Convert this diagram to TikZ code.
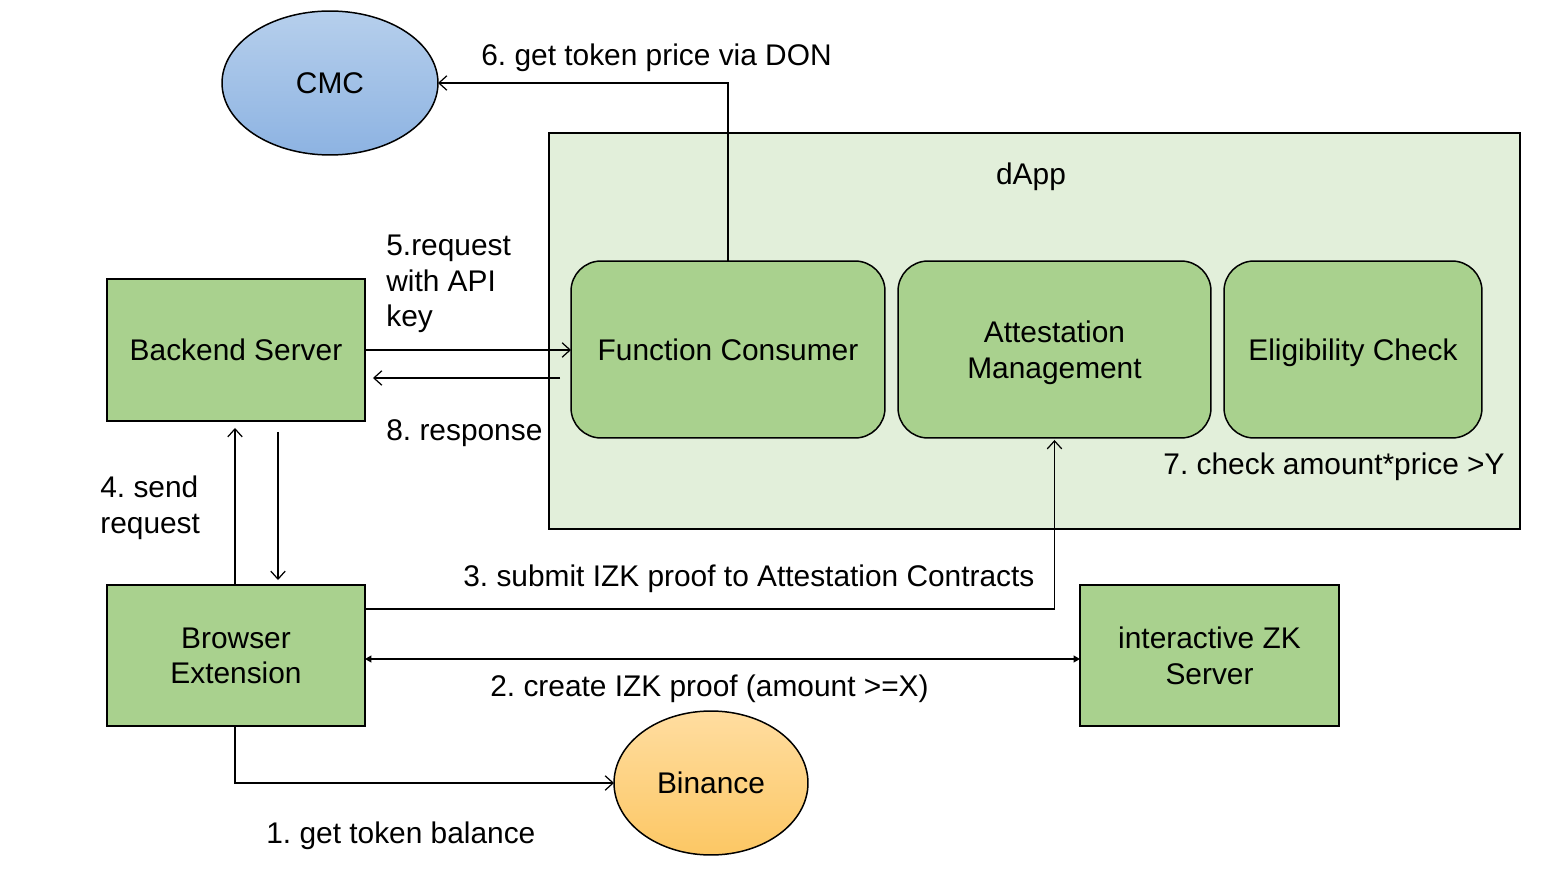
\documentclass[tikz,border=0pt]{standalone}
\usepackage{fontspec}
\setmainfont{Liberation Sans}
\usepackage{tikz}
\usetikzlibrary{shapes.geometric,arrows.meta}
\definecolor{verde}{HTML}{A9D18E}
\definecolor{verdeclaro}{HTML}{E2EFDA}
\definecolor{azulcima}{HTML}{B6CFEC}
\definecolor{azulbaixo}{HTML}{8DB3E2}
\definecolor{laranjacima}{HTML}{FFDDA0}
\definecolor{laranjabaixo}{HTML}{FCC764}
\frenchspacing
\begin{document}
\begin{tikzpicture}[x=0.02cm, y=-0.02cm, font=\fontsize{17}{20.2}\selectfont, every node/.style={text depth=0pt}]
\tikzstyle{caixa}=[rectangle, draw=black, line width=0.85pt, fill=verde, align=center, inner sep=0pt, outer sep=0pt]
\tikzstyle{bloco}=[caixa, rounded corners=0.6cm, minimum height=3.54cm]
\tikzstyle{nuvem}=[ellipse, draw=black, line width=0.85pt, inner sep=0pt, outer sep=0pt, minimum height=2.88cm]
\tikzstyle{rotulo}=[align=left, inner sep=0pt]
\tikzstyle{seta}=[line width=0.7pt, -{Straight Barb[length=1.6mm, width=2.9mm]}]
\tikzstyle{dupla}=[line width=0.7pt, {Triangle[length=1.3mm, width=1.4mm]}-{Triangle[length=1.3mm, width=1.4mm]}]
 \useasboundingbox (0,0) rectangle (1558,874);
 \node[rectangle, draw=black, line width=0.85pt, fill=verdeclaro, minimum width=19.42cm, minimum height=7.92cm, outer sep=0pt] (dapp) at (1034.5,331) {};
 \node (dapptitulo) at (1031,174) {dApp};
 \node[bloco, minimum width=6.28cm] (fc) at (728,349.5) {Function Consumer};
 \node[bloco, minimum width=6.26cm] (am) at (1054.5,349.5) {Attestation\\Management};
 \node[bloco, minimum width=5.16cm] (ec) at (1353,349.5) {Eligibility Check};
 \node[caixa, minimum width=5.16cm, minimum height=2.84cm] (backend) at (236,350) {Backend Server};
 \node[caixa, minimum width=5.16cm, minimum height=2.82cm] (browser) at (236,655.5) {Browser\\Extension};
 \node[caixa, minimum width=5.18cm, minimum height=2.82cm] (izk) at (1209.5,655.5) {interactive ZK\\Server};
 \node[nuvem, minimum width=4.32cm, top color=azulcima, bottom color=azulbaixo] (cmc) at (330,83) {CMC};
 \node[nuvem, minimum width=3.88cm, top color=laranjacima, bottom color=laranjabaixo] (binance) at (711,783) {Binance};

 \draw[seta] (fc.north) |- (cmc.east);
 \draw[seta] (backend.east) -- (backend.east -| fc.west);
 \draw[seta] ([xshift=-0.22cm]fc.west |- 0,378) -- ([xshift=0.16cm]backend.east |- 0,378);
 \draw[seta] ([xshift=-0.02cm]browser.north) -- ([xshift=-0.02cm, yshift=-0.14cm]backend.south);
 \draw[seta] ([xshift=0.84cm, yshift=-0.22cm]backend.south) -- ([xshift=0.84cm, yshift=0.1cm]browser.north);
 \draw[seta] ([yshift=0.93cm]browser.east) -| ([yshift=-0.04cm]am.south);
 \draw[dupla] ([yshift=-0.07cm]browser.east) -- ([yshift=-0.07cm]izk.west);
 \draw[seta] ([xshift=-0.02cm]browser.south) |- (binance.west);

 \node[rotulo, anchor=west] (l6) at (481,55) {6. get token price via DON};
 \node[rotulo, anchor=north west] (l5) at (386,235) {5.request\\with API\\key};
 \node[rotulo, anchor=west] (l8) at (386,430) {8. response};
 \node[rotulo, anchor=north west] (l4) at (100,476) {4. send\\request};
 \node[rotulo, anchor=west] (l3) at (463,576) {3. submit IZK proof to Attestation Contracts};
 \node[rotulo, anchor=west] (l2) at (490,686) {2. create IZK proof (amount >=X)};
 \node[rotulo, anchor=west] (l1) at (266,833) {1. get token balance};
 \node[rotulo, anchor=east] (l7) at (1505,464) {7. check amount*price >Y};
\end{tikzpicture}
\end{document}
